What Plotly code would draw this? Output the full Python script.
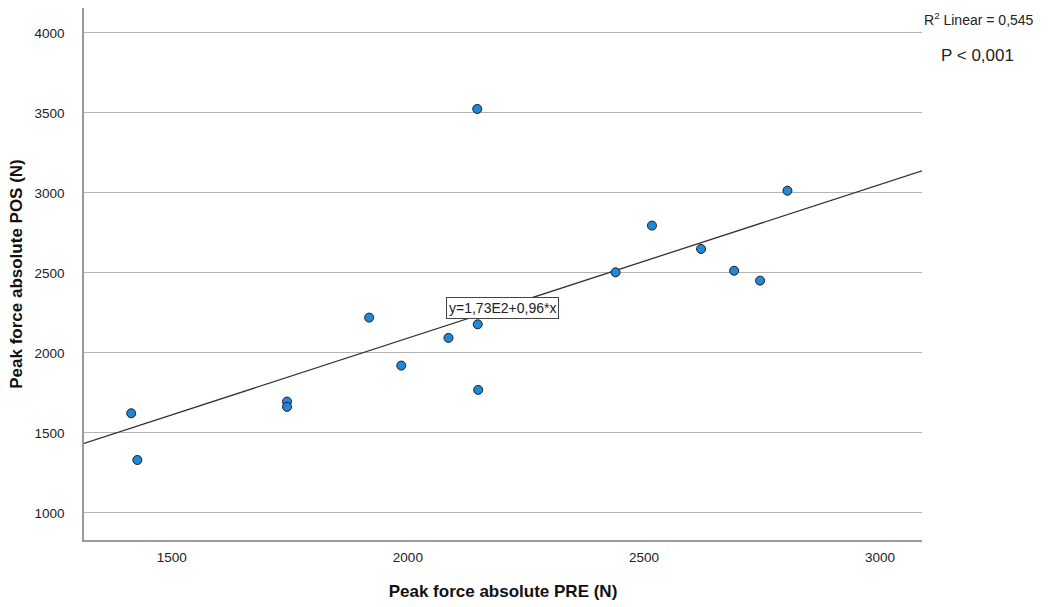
import plotly.graph_objects as go

# Data
pre_force = [1414, 1427, 1744, 1744, 1918, 1986, 2086, 2148, 2149, 2147,
             2440, 2517, 2621, 2691, 2746, 2804]
pos_force = [1623, 1331, 1696, 1663, 2221, 1921, 2094, 2179, 1769, 3525,
             2504, 2796, 2650, 2514, 2452, 3014]

fit_intercept = 173.0
fit_slope = 0.96
fit_label = "y=1,73E2+0,96*x"
r2_label = "R<sup>2</sup> Linear = 0,545"
p_label = "P < 0,001"

x_range = [1314, 3089]
y_range = [831, 4156]
x_ticks = [1500, 2000, 2500, 3000]
y_ticks = [1000, 1500, 2000, 2500, 3000, 3500, 4000]

FONT = "Liberation Sans, Arial, sans-serif"

fit_x = [x_range[0], x_range[1]]
fit_y = [fit_intercept + fit_slope * v for v in fit_x]

fig = go.Figure()
fig.add_trace(go.Scatter(
    x=fit_x, y=fit_y, mode="lines",
    line=dict(color="#333333", width=1.3),
    hoverinfo="skip", showlegend=False,
))
fig.add_trace(go.Scatter(
    x=pre_force, y=pos_force, mode="markers",
    marker=dict(size=9, color="#1f88d8", line=dict(color="#1c1c1c", width=1)),
    showlegend=False,
))

label_x = 2200
fig.add_annotation(
    x=label_x, y=fit_intercept + fit_slope * label_x - 4,
    text=fit_label, showarrow=False,
    font=dict(family=FONT, size=14, color="#222222"),
    bgcolor="white", bordercolor="#444444", borderwidth=1, borderpad=2,
)
fig.add_annotation(
    xref="paper", yref="paper", x=1.0, y=1.0, xanchor="left", yanchor="middle",
    xshift=0, yshift=-11,
    text=r2_label, showarrow=False, align="left",
    font=dict(family=FONT, size=14, color="#222222"),
)
fig.add_annotation(
    xref="paper", yref="paper", x=1.0, y=1.0, xanchor="left", yanchor="middle",
    xshift=17, yshift=-47,
    text=p_label, showarrow=False, align="left",
    font=dict(family=FONT, size=17, color="#222222"),
)

fig.update_layout(
    width=1050, height=607,
    margin=dict(l=84, r=128, t=8, b=67),
    paper_bgcolor="white", plot_bgcolor="white",
    font=dict(family=FONT, color="#222222"),
    showlegend=False,
)
fig.update_xaxes(
    range=x_range, tickvals=x_ticks, ticktext=[str(v) for v in x_ticks],
    showgrid=False, zeroline=False,
    showline=True, linecolor="#9a9a9a", linewidth=1.5,
    ticks="", ticklabelstandoff=4,
    tickfont=dict(family=FONT, size=13.5, color="#222222"),
    title=dict(text="<b>Peak force absolute PRE (N)</b>", standoff=21,
               font=dict(family=FONT, size=17, color="#111111")),
)
fig.update_yaxes(
    range=y_range, tickvals=y_ticks, ticktext=[str(v) for v in y_ticks],
    showgrid=True, gridcolor="#b4b4b4", gridwidth=1, zeroline=False,
    showline=True, linecolor="#9a9a9a", linewidth=1.5,
    ticks="", ticklabelstandoff=15,
    tickfont=dict(family=FONT, size=13.5, color="#222222"),
    title=dict(text="<b>Peak force absolute POS (N)</b>", standoff=8,
               font=dict(family=FONT, size=17, color="#111111")),
)

fig.write_html("out.html", config={"displayModeBar": False},
               post_script="document.body.style.margin='0px';")
